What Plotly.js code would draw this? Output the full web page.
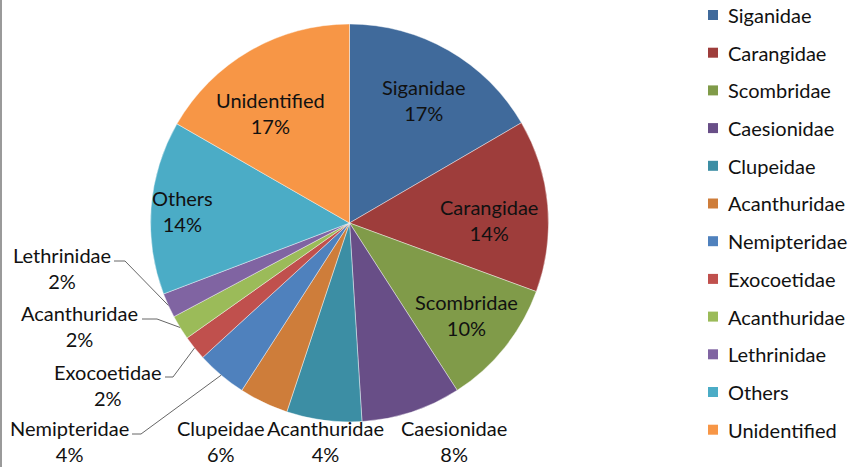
<!DOCTYPE html>
<html>
<head>
<meta charset="utf-8">
<script src="https://cdn.plot.ly/plotly-3.0.1.min.js"></script>
<style>
  html, body { margin: 0; padding: 0; background: #ffffff; }
  #chart { width: 848px; height: 467px; }
</style>
</head>
<body>
<div id="chart"></div>
<script>
// ---- data ----
const CATEGORIES = ['Siganidae', 'Carangidae', 'Scombridae', 'Caesionidae', 'Clupeidae', 'Acanthuridae',
                    'Nemipteridae', 'Exocoetidae', 'Acanthuridae', 'Lethrinidae', 'Others', 'Unidentified'];
const VALUES = [16.6, 14.0, 10.3, 8.1, 6.1, 4.0, 4.1, 2.0, 2.0, 2.0, 14.1, 16.7];

// ---- styles ----
const COLORS = ['#406A9B', '#9E3D3B', '#809B49', '#684E87', '#3C8EA4', '#CE7D3A',
                '#4F81BD', '#C0504D', '#9BBB59', '#8064A2', '#4BACC6', '#F79646'];
const W = 848, H = 467;
const CX = 349.5, CY = 223, R = 199;
const FONT = 'Lato, "Open Sans", sans-serif';
const FS = 20;

// label centre positions (pixels) and leader elbows for outside labels
const LABEL_POS = [
  [424, 100], [489, 220], [466, 315], [454, 441], [221, 441], [325, 441],
  [69, 441], [108, 385], [79, 326], [62, 268], [182, 211], [270, 113]
];
const LEADERS = { 6: [[132, 434], [141, 434]], 7: [[165, 377], [173, 377]],
                  8: [[142, 319], [157, 319]], 9: [[114, 261], [125, 261]] };

const px = x => x / W;
const py = y => 1 - y / H;

const total = VALUES.reduce((a, b) => a + b, 0);
const keys = CATEGORIES.map((c, i) => c + '\u200b'.repeat(i));

const trace = {
  type: 'pie',
  labels: keys,
  values: VALUES,
  sort: false,
  direction: 'clockwise',
  rotation: 0,
  textinfo: 'none',
  hoverinfo: 'none',
  marker: { colors: COLORS, line: { color: 'rgba(255,255,255,0.55)', width: 0.75 } },
  domain: { x: [px(CX - R), px(CX + R)], y: [py(CY + R), py(CY - R)] },
  showlegend: false
};

const annotations = [];
const shapes = [];

// slice labels
let cum = 0;
VALUES.forEach((v, i) => {
  const mid = (cum + v / 2) / total * 2 * Math.PI;
  cum += v;
  const pct = Math.round(v / total * 100);
  const [lx, ly] = LABEL_POS[i];
  annotations.push({
    xref: 'paper', yref: 'paper', x: px(lx), y: py(ly),
    xanchor: 'center', yanchor: 'middle', showarrow: false,
    text: CATEGORIES[i] + '<br>' + pct + '%',
    font: { family: FONT, size: FS, color: '#111111' }
  });
  if (LEADERS[i]) {
    const ex = CX + R * Math.sin(mid), ey = CY - R * Math.cos(mid);
    const [a, b] = LEADERS[i];
    shapes.push({
      type: 'path', xref: 'paper', yref: 'paper',
      path: `M ${px(a[0])},${py(a[1])} L ${px(b[0])},${py(b[1])} L ${px(ex)},${py(ey)}`,
      line: { color: '#666666', width: 1 }
    });
  }
});

// custom legend
const LEG_X = 708, LEG_Y0 = 15, LEG_DY = 37.7, SQ = 10;
CATEGORIES.forEach((c, i) => {
  const y = LEG_Y0 + i * LEG_DY;
  shapes.push({
    type: 'rect', xref: 'paper', yref: 'paper',
    x0: px(LEG_X), x1: px(LEG_X + SQ), y0: py(y + SQ / 2), y1: py(y - SQ / 2),
    fillcolor: COLORS[i], line: { width: 0 }
  });
  annotations.push({
    xref: 'paper', yref: 'paper', x: px(LEG_X + 18), y: py(y),
    xanchor: 'left', yanchor: 'middle', showarrow: false,
    text: c, font: { family: FONT, size: FS, color: '#111111' }
  });
});

// left border
shapes.push({ type: 'line', xref: 'paper', yref: 'paper', x0: px(1), x1: px(1), y0: 0, y1: 1,
              line: { color: '#9a9a9a', width: 2 } });

const layout = {
  width: W, height: H,
  margin: { l: 0, r: 0, t: 0, b: 0 },
  paper_bgcolor: '#ffffff', plot_bgcolor: '#ffffff',
  showlegend: false,
  annotations: annotations,
  shapes: shapes
};

Plotly.newPlot('chart', [trace], layout, { displayModeBar: false, staticPlot: true });
</script>
</body>
</html>
